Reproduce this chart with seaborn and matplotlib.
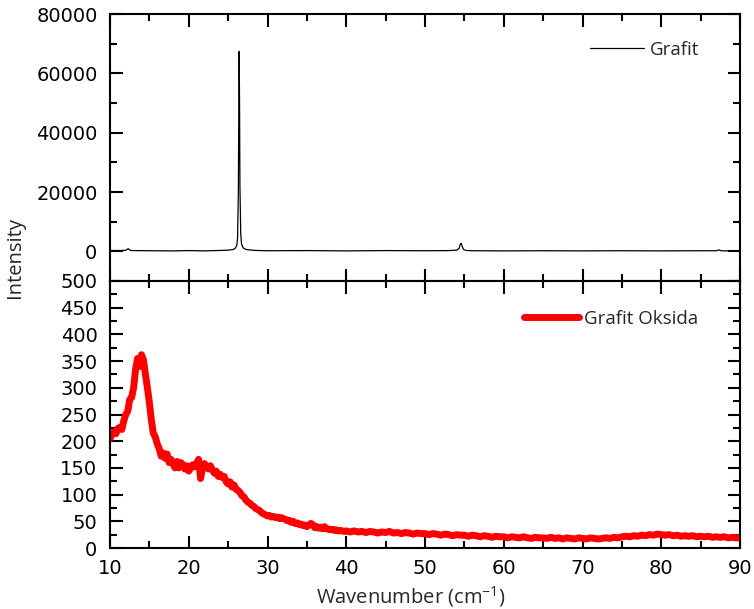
import numpy as np
import matplotlib
matplotlib.use("Agg")
import matplotlib.pyplot as plt
import seaborn as sns
from matplotlib.ticker import MultipleLocator

# Grafit (black, top panel)
grafit_x = [10, 11, 12, 12.3, 12.6, 13, 15, 18, 20, 22, 24, 25, 25.6, 25.9, 26.1, 26.2,
            26.3, 26.35, 26.4, 26.45, 26.5, 26.6, 26.7, 26.9, 27.2, 27.6, 28.5, 30, 35,
            40, 45, 50, 53, 54, 54.3, 54.5, 54.6, 54.7, 54.9, 55.2, 56, 60, 65, 70, 75,
            80, 85, 87, 87.3, 87.6, 88, 90]
grafit_y = [300, 250, 350, 900, 300, 250, 200, 150, 250, 150, 300, 400, 600, 1000, 2000, 4500,
            20000, 45000, 67400, 50000, 22000, 6000, 2500, 1200, 700, 500, 300, 200, 250,
            150, 250, 200, 250, 400, 900, 2400, 2700, 1800, 600, 300, 200, 150, 200, 150, 200,
            150, 200, 200, 500, 200, 150, 200]

# Grafit Oksida (red, bottom panel): 10-40 every 0.25, 40.5-90 every 0.5
oksida_x = np.concatenate([np.arange(10, 40.01, 0.25), np.arange(40.5, 90.01, 0.5)])
oksida_y = [
    205, 212, 218, 214,   # 10
    224, 226, 222, 238,   # 11
    250, 256, 278, 282,   # 12
    300, 335, 355, 340,   # 13
    362, 352, 325, 300,   # 14
    272, 240, 215, 208,   # 15
    195, 186, 172, 178,   # 16
    168, 176, 160, 166,   # 17
    158, 150, 162, 150,   # 18
    160, 156, 148, 154,   # 19
    144, 150, 156, 152,   # 20
    158, 166, 130, 150,   # 21
    158, 152, 148, 154,   # 22
    146, 140, 144, 134,   # 23
    138, 132, 134, 124,   # 24
    120, 124, 114, 118,   # 25
    110, 108, 104, 98,    # 26
    96, 90, 86, 84,       # 27
    80, 78, 74, 72,       # 28
    70, 66, 64, 62,       # 29
    60, 61, 58, 59,       # 30
    57, 58, 55, 57,       # 31
    55, 54, 51, 52,       # 32
    48, 50, 46, 47,       # 33
    44, 45, 42, 43,       # 34
    40, 43, 46, 44,       # 35
    38, 40, 37, 39,       # 36
    36, 40, 36, 35,       # 37
    34, 35, 33, 34,       # 38
    32, 33, 32, 31,       # 39
    32,                   # 40
    30, 32, 30, 31, 29, 31, 30, 28, 30, 29,
    31, 28, 29, 27, 29, 28, 26, 28, 27, 27,
    25, 27, 26, 24, 26, 25, 23, 25, 24, 24,
    22, 24, 23, 21, 23, 22, 20, 22, 21, 21,
    19, 21, 20, 19, 21, 19, 18, 20, 19, 19,
    18, 20, 18, 19, 17, 19, 18, 17, 19, 18,
    17, 19, 18, 17, 18, 19, 18, 20, 19, 21,
    22, 21, 23, 22, 24, 23, 25, 24, 26, 25,
    24, 25, 23, 24, 22, 23, 22, 23, 21, 22,
    21, 22, 20, 21, 20, 21, 19, 20, 19, 19,
]

sns.set_style("ticks")
plt.rcParams["font.family"] = ["DejaVu Sans"]
plt.rcParams["axes.linewidth"] = 1.5
plt.rcParams["mathtext.fontset"] = "custom"
plt.rcParams["mathtext.rm"] = "Open Sans"

fig = plt.figure(figsize=(7.54, 6.09), dpi=100)
ax1 = fig.add_axes([110 / 754, 1 - 281 / 609, 630 / 754, 267 / 609])
ax2 = fig.add_axes([110 / 754, 1 - 548 / 609, 630 / 754, 267 / 609])

sns.lineplot(x=grafit_x, y=grafit_y, ax=ax1, color="black", lw=0.9, label="Grafit")
sns.lineplot(x=oksida_x, y=oksida_y, ax=ax2, color="#ff0000", lw=5, label="Grafit Oksida")

ax1.set_ylim(-10000, 80000)
ax1.yaxis.set_major_locator(MultipleLocator(20000))
ax1.yaxis.set_minor_locator(MultipleLocator(10000))
ax2.set_ylim(0, 500)
ax2.yaxis.set_major_locator(MultipleLocator(50))
ax2.yaxis.set_minor_locator(MultipleLocator(25))

for ax in (ax1, ax2):
    ax.set_xlim(10, 90)
    ax.xaxis.set_major_locator(MultipleLocator(10))
    ax.xaxis.set_minor_locator(MultipleLocator(5))
    ax.tick_params(which="both", direction="in", top=True, right=True,
                   width=1.5, labelsize=14, colors="black")
    ax.tick_params(which="major", length=9)
    ax.tick_params(which="minor", length=5)
    ax.tick_params(axis="y", pad=9)
    for s in ax.spines.values():
        s.set_linewidth(1.5)
        s.set_color("black")
    ax.set_xlabel("")
    ax.set_ylabel("")
ax1.tick_params(axis="x", labelbottom=False)
ax2.tick_params(axis="x", pad=8)

leg_font = {"family": "Open Sans", "size": 13.5}
ax1.legend(loc="center right", bbox_to_anchor=(0.950, 0.865), frameon=False,
           prop=leg_font, borderpad=0, handlelength=2.9, handletextpad=0.3)
ax2.legend(loc="center right", bbox_to_anchor=(0.949, 0.858), frameon=False,
           prop=leg_font, borderpad=0, handlelength=2.9, handletextpad=0.3)

fig.text(15 / 754, 1 - 257 / 609, "Intensity", rotation=90, ha="center", va="center",
         family="Open Sans", fontsize=14.5)
fig.text(411 / 754, 1 - 597 / 609, "Wavenumber (cm$^{-1}$)", ha="center", va="center",
         family="Open Sans", fontsize=14.5)

fig.savefig("out.png", dpi=100)
